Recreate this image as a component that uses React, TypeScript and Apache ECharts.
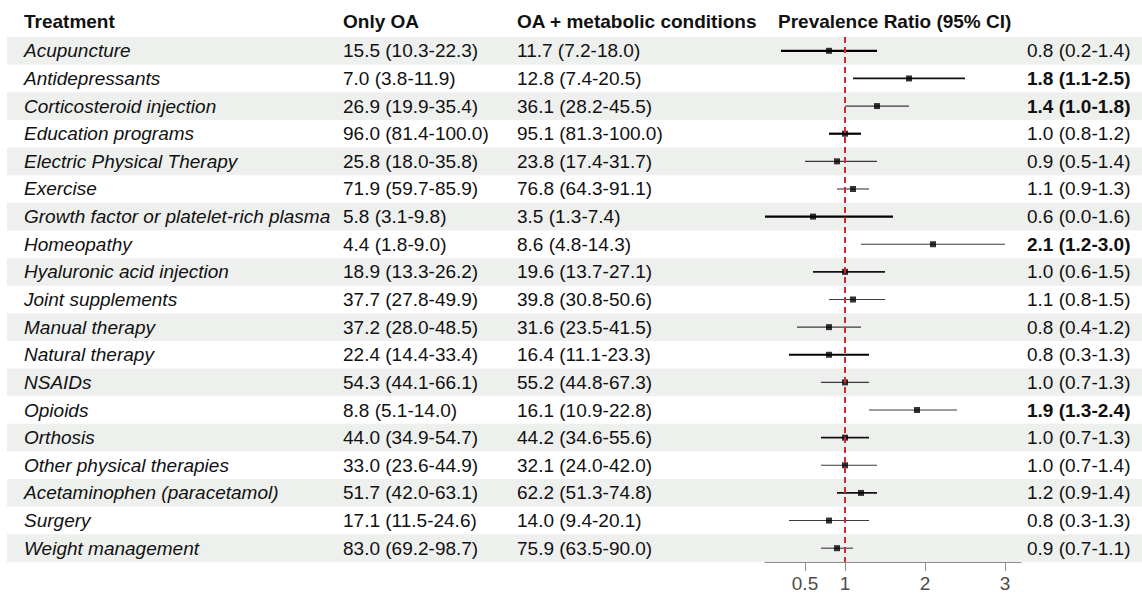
import React, { useEffect, useRef } from "react";
import * as echarts from "echarts";

const treatments = [
  "Acupuncture",
  "Antidepressants",
  "Corticosteroid injection",
  "Education programs",
  "Electric Physical Therapy",
  "Exercise",
  "Growth factor or platelet-rich plasma",
  "Homeopathy",
  "Hyaluronic acid injection",
  "Joint supplements",
  "Manual therapy",
  "Natural therapy",
  "NSAIDs",
  "Opioids",
  "Orthosis",
  "Other physical therapies",
  "Acetaminophen (paracetamol)",
  "Surgery",
  "Weight management",
];

const onlyOA = [
  "15.5 (10.3-22.3)",
  "7.0 (3.8-11.9)",
  "26.9 (19.9-35.4)",
  "96.0 (81.4-100.0)",
  "25.8 (18.0-35.8)",
  "71.9 (59.7-85.9)",
  "5.8 (3.1-9.8)",
  "4.4 (1.8-9.0)",
  "18.9 (13.3-26.2)",
  "37.7 (27.8-49.9)",
  "37.2 (28.0-48.5)",
  "22.4 (14.4-33.4)",
  "54.3 (44.1-66.1)",
  "8.8 (5.1-14.0)",
  "44.0 (34.9-54.7)",
  "33.0 (23.6-44.9)",
  "51.7 (42.0-63.1)",
  "17.1 (11.5-24.6)",
  "83.0 (69.2-98.7)",
];

const oaMetabolic = [
  "11.7 (7.2-18.0)",
  "12.8 (7.4-20.5)",
  "36.1 (28.2-45.5)",
  "95.1 (81.3-100.0)",
  "23.8 (17.4-31.7)",
  "76.8 (64.3-91.1)",
  "3.5 (1.3-7.4)",
  "8.6 (4.8-14.3)",
  "19.6 (13.7-27.1)",
  "39.8 (30.8-50.6)",
  "31.6 (23.5-41.5)",
  "16.4 (11.1-23.3)",
  "55.2 (44.8-67.3)",
  "16.1 (10.9-22.8)",
  "44.2 (34.6-55.6)",
  "32.1 (24.0-42.0)",
  "62.2 (51.3-74.8)",
  "14.0 (9.4-20.1)",
  "75.9 (63.5-90.0)",
];

const pr = [0.8, 1.8, 1.4, 1.0, 0.9, 1.1, 0.6, 2.1, 1.0, 1.1, 0.8, 0.8, 1.0, 1.9, 1.0, 1.0, 1.2, 0.8, 0.9];
const prLow = [0.2, 1.1, 1.0, 0.8, 0.5, 0.9, 0.0, 1.2, 0.6, 0.8, 0.4, 0.3, 0.7, 1.3, 0.7, 0.7, 0.9, 0.3, 0.7];
const prHigh = [1.4, 2.5, 1.8, 1.2, 1.4, 1.3, 1.6, 3.0, 1.5, 1.5, 1.2, 1.3, 1.3, 2.4, 1.3, 1.4, 1.4, 1.3, 1.1];
const significant = [false, true, true, false, false, false, false, true, false, false, false, false, false, true, false, false, false, false, false];
// relative weight of each estimate (drives CI line thickness)
const weightLevel = [3, 2, 1, 3, 1, 1, 3, 1, 2, 1, 1, 3, 1, 1, 2, 1, 2, 1, 1];
const xTicks = [0.5, 1, 2, 3];
const refValue = 1;

const FONT = "'Liberation Sans', Arial, Helvetica, sans-serif";
const FS = 19;

const prText = (i: number) =>
  `${pr[i].toFixed(1)} (${prLow[i].toFixed(1)}-${prHigh[i].toFixed(1)})`;

export default function App() {
  const ref = useRef<HTMLDivElement>(null);

  useEffect(() => {
    if (!ref.current) return;
    const chart = echarts.init(ref.current, undefined, { renderer: "svg" });
    const base = { fontSize: FS, fontFamily: FONT, color: "#111" };

    const option: any = {
      animation: false,
      backgroundColor: "#fff",
      grid: [
        { left: 7, right: 0, top: 37, bottom: 34 },
        { left: 765, right: 121, top: 37, bottom: 34 },
      ],
      xAxis: [
        { gridIndex: 0, type: "value", show: false, min: 0, max: 1 },
        {
          gridIndex: 1,
          type: "value",
          min: 0,
          max: 3.2,
          axisLine: { show: true, lineStyle: { color: "#8c8c8c", width: 1 } },
          axisTick: { show: true, length: 9, customValues: xTicks, lineStyle: { color: "#8c8c8c" } },
          axisLabel: { customValues: xTicks, fontSize: FS, fontFamily: FONT, color: "#4d4d4d", margin: 12 },
          splitLine: { show: false },
        },
      ],
      yAxis: [
        {
          gridIndex: 0,
          type: "category",
          inverse: true,
          data: treatments,
          axisLine: { show: false },
          axisTick: { show: false },
          splitLine: { show: false },
          splitArea: {
            show: true,
            interval: 0,
            areaStyle: { color: ["#eef0ee", "rgba(255,255,255,0)"] },
          },
          axisLabel: {
            inside: true,
            interval: 0,
            margin: 17,
            ...base,
            formatter: (_v: string, i: number) =>
              `{t|${treatments[i]}}{o|${onlyOA[i]}}{m|${oaMetabolic[i]}}`,
            rich: {
              t: { ...base, width: 319, fontStyle: "italic", align: "left" },
              o: { ...base, width: 174, align: "left" },
              m: { ...base, align: "left" },
            },
          },
        },
        {
          gridIndex: 1,
          type: "category",
          inverse: true,
          position: "right",
          data: treatments,
          axisLine: { show: false },
          axisTick: { show: false },
          splitLine: { show: false },
          axisLabel: {
            interval: 0,
            margin: 6,
            ...base,
            formatter: (_v: string, i: number) =>
              significant[i] ? `{b|${prText(i)}}` : `{n|${prText(i)}}`,
            rich: {
              b: { ...base, fontWeight: "bold" },
              n: { ...base },
            },
          },
        },
      ],
      graphic: [
        { type: "text", x: 24, y: 21, style: { text: "Treatment", fontSize: FS, fontWeight: "bold", fontFamily: FONT, fill: "#111", verticalAlign: "middle" } },
        { type: "text", x: 343, y: 21, style: { text: "Only OA", fontSize: FS, fontWeight: "bold", fontFamily: FONT, fill: "#111", verticalAlign: "middle" } },
        { type: "text", x: 517, y: 21, style: { text: "OA + metabolic conditions", fontSize: FS, fontWeight: "bold", fontFamily: FONT, fill: "#111", verticalAlign: "middle" } },
        { type: "text", x: 778, y: 21, style: { text: "Prevalence Ratio (95% CI)", fontSize: FS, fontWeight: "bold", fontFamily: FONT, fill: "#111", verticalAlign: "middle" } },
      ],
      series: [
        {
          type: "custom",
          xAxisIndex: 1,
          yAxisIndex: 1,
          z: 2,
          data: treatments.map((_, i) => [i, prLow[i], prHigh[i], weightLevel[i]]),
          encode: { x: [1, 2], y: 0 },
          renderItem: (_params: any, api: any) => {
            const row = api.value(0);
            const a = api.coord([api.value(1), row]);
            const b = api.coord([api.value(2), row]);
            const w = api.value(3);
            const width = w === 3 ? 2.2 : w === 2 ? 1.7 : 1.1;
            const color = w === 3 ? "#000" : w === 2 ? "#111" : "#3a3a3a";
            return {
              type: "line",
              shape: { x1: a[0], y1: a[1], x2: b[0], y2: b[1] },
              style: { stroke: color, lineWidth: width },
            };
          },
        },
        {
          type: "scatter",
          xAxisIndex: 1,
          yAxisIndex: 1,
          z: 3,
          data: [],
          markLine: {
            silent: true,
            symbol: "none",
            label: { show: false },
            lineStyle: { color: "#d62728", type: [6, 4], width: 2 },
            data: [{ xAxis: refValue }],
          },
        },
        {
          type: "scatter",
          xAxisIndex: 1,
          yAxisIndex: 1,
          z: 4,
          symbol: "rect",
          symbolSize: 6,
          itemStyle: { color: "#000" },
          data: treatments.map((_, i) => [pr[i], i]),
        },
      ],
    };

    chart.setOption(option);
    return () => chart.dispose();
  }, []);

  return (
    <div
      ref={ref}
      style={{ position: "fixed", left: 0, top: 0, width: 1142, height: 596 }}
    />
  );
}
